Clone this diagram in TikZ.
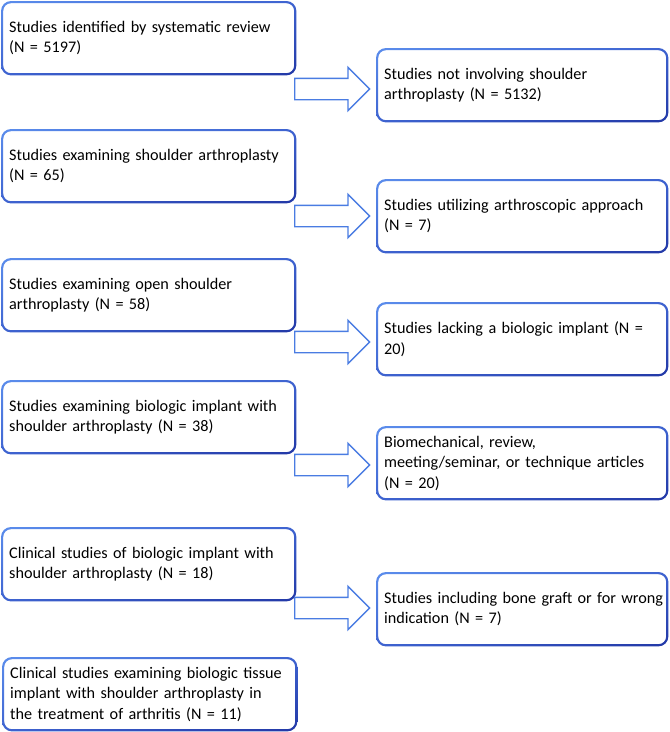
\documentclass[tikz,border=0pt]{standalone}
\usepackage{fontspec}
\setmainfont{Carlito}
\usetikzlibrary{shapes.arrows,calc,shadings}
\definecolor{blight}{HTML}{5B8DEC}
\definecolor{bmid}{HTML}{3E63D0}
\definecolor{bdark}{HTML}{2238A6}
\definecolor{arrowblue}{HTML}{4A7CE2}
\begin{document}
\begin{tikzpicture}[x=1pt,y=-1pt,
  box/.style={draw=none, rectangle, align=left, inner ysep=0pt, minimum height=74pt,
              font=\fontsize{16.2}{20.5}\selectfont, anchor=north west},
  lbox/.style={box, inner xsep=8pt, text width=279pt},
  rbox/.style={box, inner xsep=8pt, text width=276pt},
  barrow/.style={single arrow, draw=arrowblue, line width=1.4pt, minimum height=75pt,
                 inner xsep=0pt, inner ysep=10pt, single arrow head extend=11pt,
                 anchor=west, miter limit=10}]
\useasboundingbox (0,0) rectangle (670,732);

\node[lbox] (b1) at (1,1)   {Studies identified by systematic review\\(N = 5197)};
\node[lbox] (b2) at (1,129) {Studies examining shoulder arthroplasty\\(N = 65)};
\node[lbox] (b3) at (1,258) {Studies examining open shoulder\\arthroplasty (N = 58)};
\node[lbox] (b4) at (1,380) {Studies examining biologic implant with\\shoulder arthroplasty (N = 38)};
\node[lbox] (b5) at (1,527) {Clinical studies of biologic implant with\\shoulder arthroplasty (N = 18)};
\node[lbox] (b6) at (2,657) {\mbox{Clinical studies examining biologic tissue}\\implant with shoulder arthroplasty in\\the treatment of arthritis (N = 11)};

\node[rbox] (r1) at (376,48)  {Studies not involving shoulder\\arthroplasty (N = 5132)};
\node[rbox] (r2) at (376,179) {Studies utilizing arthroscopic approach\\(N = 7)};
\node[rbox] (r3) at (376,302) {Studies lacking a biologic implant (N =\\20)};
\node[rbox] (r4) at (376,426) {Biomechanical, review,\\meeting/seminar, or technique articles\\(N = 20)};
\node[rbox] (r5) at (376,572) {\mbox{Studies including bone graft or for wrong}\\indication (N = 7)};

\foreach \n in {b1,b2,b3,b4,b5,b6,r1,r2,r3,r4,r5}{
  \shade[upper left=blight, upper right=bmid, lower left=bmid, lower right=bdark, even odd rule]
    [rounded corners=10pt] (\n.north west) rectangle (\n.south east)
    [rounded corners=7.8pt] ($(\n.north west)+(2.2,2.2)$) rectangle ($(\n.south east)+(-2.2,-2.2)$);
}

\node[barrow] (a1) at (294,89)  {};
\node[barrow] (a2) at (294,216) {};
\node[barrow] (a3) at (294,342) {};
\node[barrow] (a4) at (294,465) {};
\node[barrow] (a5) at (294,608) {};
\end{tikzpicture}
\end{document}
